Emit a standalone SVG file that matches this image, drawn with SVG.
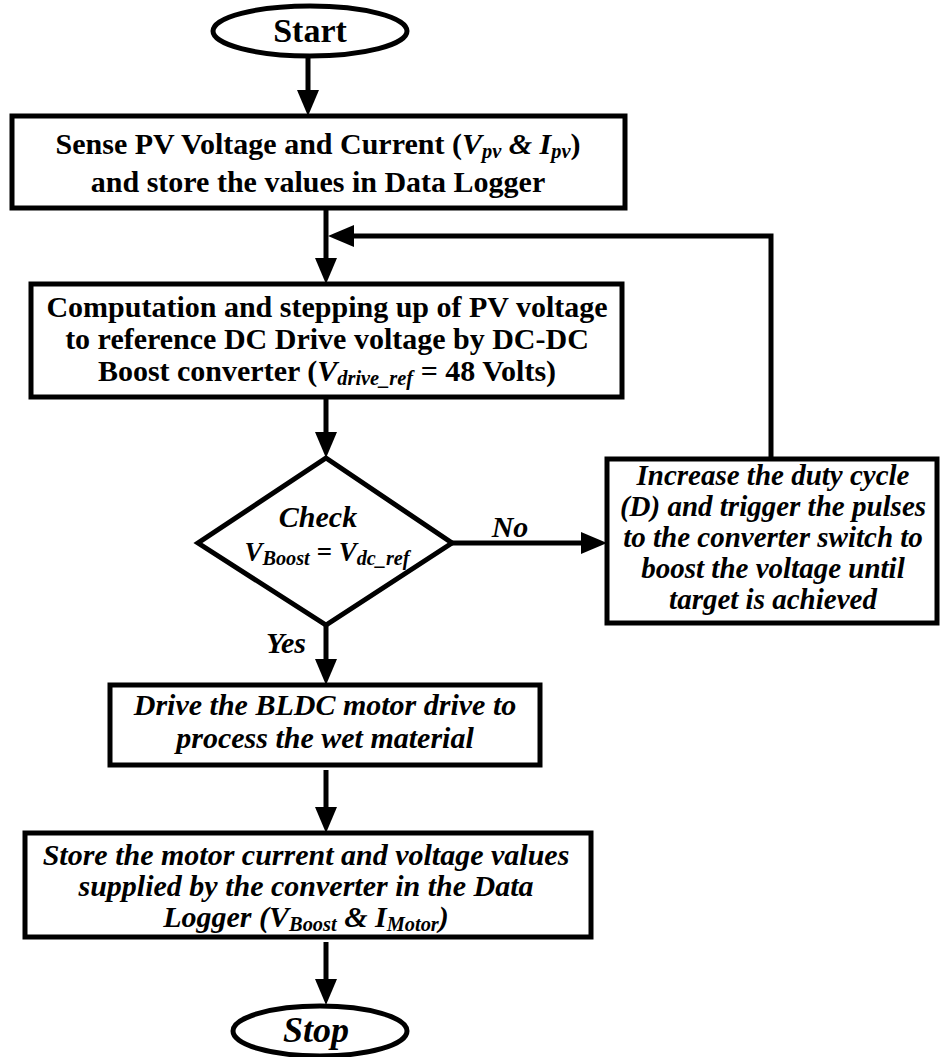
<svg xmlns="http://www.w3.org/2000/svg" width="940" height="1057" viewBox="0 0 940 1057">
<defs>
<style>
.box{fill:#fff;stroke:#000;stroke-width:5}
.conn{fill:none;stroke:#000;stroke-width:5}
.t{font-family:"Liberation Serif","Times New Roman",serif;font-weight:bold;fill:#000;text-anchor:middle}
.it{font-style:italic}
.sub{font-size:68%}
</style>
<marker id="ah" viewBox="0 0 26 22" refX="16" refY="11" markerWidth="26" markerHeight="22" markerUnits="userSpaceOnUse" orient="auto">
<path d="M0,0 L26,11 L0,22 Z" fill="#000"/>
</marker>
</defs>
<rect width="940" height="1057" fill="#fff"/>

<g id="connectors">
<line class="conn" x1="308" y1="57" x2="308" y2="106" marker-end="url(#ah)"/>
<line class="conn" x1="326" y1="208" x2="326" y2="274" marker-end="url(#ah)"/>
<polyline class="conn" points="771,459 771,236 338,236" marker-end="url(#ah)"/>
<line class="conn" x1="326" y1="397" x2="326" y2="448" marker-end="url(#ah)"/>
<line class="conn" x1="452" y1="543" x2="597" y2="543" marker-end="url(#ah)"/>
<line class="conn" x1="326" y1="625" x2="326" y2="675" marker-end="url(#ah)"/>
<line class="conn" x1="326" y1="770" x2="326" y2="823" marker-end="url(#ah)"/>
<line class="conn" x1="326" y1="942" x2="326" y2="995" marker-end="url(#ah)"/>
</g>

<g id="start">
<ellipse class="box" cx="310" cy="31" rx="97" ry="25"/>
<text class="t" x="310" y="42" font-size="34">Start</text>
</g>

<g id="sense">
<rect class="box" x="12" y="116" width="613" height="92"/>
<text class="t" x="318" y="154" font-size="30">Sense PV Voltage and Current (<tspan class="it">V<tspan class="sub" baseline-shift="-18%">pv</tspan> &amp; I<tspan class="sub" baseline-shift="-18%">pv</tspan></tspan>)</text>
<text class="t" x="318" y="192" font-size="30">and store the values in Data Logger</text>
</g>

<g id="compute">
<rect class="box" x="31" y="284" width="591" height="113"/>
<text class="t" x="327" y="317" font-size="30">Computation and stepping up of PV voltage</text>
<text class="t" x="327" y="349" font-size="30">to reference DC Drive voltage by DC-DC</text>
<text class="t" x="327" y="381" font-size="30">Boost converter (<tspan class="it">V<tspan class="sub" baseline-shift="-18%">drive_ref</tspan></tspan>  = 48 Volts)</text>
</g>

<g id="check">
<polygon class="box" points="326,458 452,543 326,625 198,543"/>
<text class="t it" x="318" y="527" font-size="30">Check</text>
<text class="t it" x="327" y="561" font-size="27">V<tspan font-size="75%" baseline-shift="-18%">Boost</tspan> = V<tspan font-size="75%" baseline-shift="-18%">dc_ref</tspan></text>
</g>

<g id="increase">
<rect class="box" x="607" y="459" width="330" height="164"/>
<text class="t it" x="773" y="485" font-size="29">Increase the duty cycle</text>
<text class="t it" x="773" y="516" font-size="29">(D) and trigger the pulses</text>
<text class="t it" x="773" y="547" font-size="29">to the converter switch to</text>
<text class="t it" x="773" y="578" font-size="29">boost the voltage until</text>
<text class="t it" x="773" y="609" font-size="29">target is achieved</text>
</g>

<g id="drive">
<rect class="box" x="110" y="685" width="430" height="80"/>
<text class="t it" x="325" y="715" font-size="30">Drive the BLDC motor drive to</text>
<text class="t it" x="325" y="748" font-size="30">process the wet material</text>
</g>

<g id="store">
<rect class="box" x="25" y="833" width="566" height="104"/>
<text class="t it" x="306" y="865" font-size="30">Store the motor current and voltage values</text>
<text class="t it" x="306" y="896" font-size="30">supplied by the converter in the Data</text>
<text class="t it" x="306" y="927" font-size="30">Logger (V<tspan class="sub" baseline-shift="-18%">Boost</tspan>  &amp; I<tspan class="sub" baseline-shift="-18%">Motor</tspan>)</text>
</g>

<g id="stop">
<ellipse class="box" cx="320" cy="1031" rx="87" ry="25"/>
<text class="t it" x="316" y="1042" font-size="36">Stop</text>
</g>

<g id="labels">
<text class="t it" x="510" y="537" font-size="30">No</text>
<text class="t it" x="286" y="653" font-size="30">Yes</text>
</g>
</svg>
